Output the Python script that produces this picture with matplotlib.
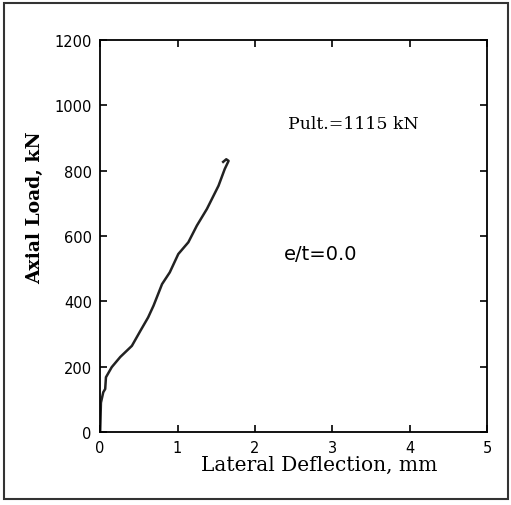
import numpy as np
from matplotlib import pyplot as plt
from matplotlib.patches import Rectangle
import matplotlib

matplotlib.use('Agg')

# lateral deflection (mm) vs axial load (kN)
deflection = [0.0, 0.01, 0.04, 0.065, 0.075, 0.15, 0.26, 0.41, 0.52, 0.62, 0.69,
              0.80, 0.90, 1.01, 1.14, 1.25, 1.38, 1.53, 1.61, 1.66, 1.63, 1.59]
load = [0, 90, 122, 132, 168, 199, 230, 264, 310, 351, 387,
        453, 489, 545, 581, 632, 683, 754, 805, 830, 835, 827]

x_ticks = [0, 1, 2, 3, 4, 5]
y_ticks = [0, 200, 400, 600, 800, 1000, 1200]

fig = plt.figure(figsize=(5.11, 5.06), dpi=100)
ax = fig.add_axes([0.196, 0.144, 0.757, 0.775])

ax.plot(deflection, load, color='#222222', lw=1.8, solid_joinstyle='round')

ax.set_xlim(0, 5)
ax.set_ylim(0, 1200)
ax.set_xticks(x_ticks)
ax.set_yticks(y_ticks)
ax.tick_params(direction='in', top=True, right=True, length=5, width=1.2,
               labelsize=10.5, pad=6)
for lbl in ax.get_xticklabels() + ax.get_yticklabels():
    lbl.set_fontfamily('DejaVu Sans')
for sp in ax.spines.values():
    sp.set_linewidth(1.3)

ax.set_xlabel('Lateral Deflection, mm', family='DejaVu Serif', fontsize=14.5)
ax.xaxis.set_label_coords(0.566, -0.058)
ax.set_ylabel('Axial Load, kN', family='DejaVu Serif', fontsize=13.5,
              fontweight='bold')
ax.yaxis.set_label_coords(-0.145, 0.574)

ax.text(2.43, 945, 'Pult.=1115 kN', family='DejaVu Serif', fontsize=12.5,
        va='center', ha='left')
ax.text(2.38, 548, 'e/t=0.0', family='DejaVu Sans', fontsize=14,
        va='center', ha='left')

# outer frame around the whole figure
fig.patches.append(Rectangle((0.008, 0.012), 0.986, 0.98, transform=fig.transFigure,
                             fill=False, lw=1.5, edgecolor='#333333'))

fig.savefig('out.png', dpi=100)
